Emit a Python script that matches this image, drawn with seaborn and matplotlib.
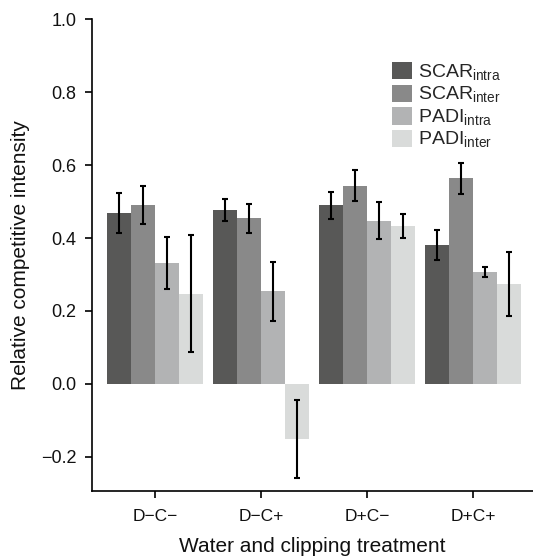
import numpy as np
import pandas as pd
import seaborn as sns
import matplotlib
matplotlib.use("Agg")
import matplotlib.pyplot as plt
from matplotlib.patches import Patch

# Treatments and competition indices
treatments = ["D\u2212C\u2212", "D\u2212C+", "D+C\u2212", "D+C+"]
indices = ["SCAR_intra", "SCAR_inter", "PADI_intra", "PADI_inter"]
index_labels = [r"SCAR$_{\rm intra}$", r"SCAR$_{\rm inter}$",
                r"PADI$_{\rm intra}$", r"PADI$_{\rm inter}$"]

# Mean relative competitive intensity per index, ordered by treatment
scar_intra = [0.468, 0.476, 0.490, 0.380]
scar_inter = [0.490, 0.454, 0.544, 0.564]
padi_intra = [0.331, 0.254, 0.448, 0.306]
padi_inter = [0.248, -0.151, 0.434, 0.273]

# Standard errors
scar_intra_se = [0.055, 0.030, 0.037, 0.041]
scar_inter_se = [0.052, 0.040, 0.042, 0.043]
padi_intra_se = [0.071, 0.081, 0.051, 0.014]
padi_inter_se = [0.160, 0.108, 0.033, 0.088]

means = [scar_intra, scar_inter, padi_intra, padi_inter]
ses = [scar_intra_se, scar_inter_se, padi_intra_se, padi_inter_se]

df = pd.DataFrame({
    "treatment": np.tile(treatments, len(indices)),
    "index": np.repeat(indices, len(treatments)),
    "rci": np.concatenate(means),
    "se": np.concatenate(ses),
})

palette = ["#585857", "#898989", "#b2b3b4", "#d9dbda"]

sns.set_theme(style="ticks")
plt.rcParams["font.family"] = ["Liberation Sans", "DejaVu Sans"]
plt.rcParams["mathtext.fontset"] = "custom"
plt.rcParams["mathtext.rm"] = "Liberation Sans"

fig = plt.figure(figsize=(5.33, 5.6), dpi=100)
ax = fig.add_axes([0.1726, 0.1232, 0.8274, 0.8420])

sns.barplot(data=df, x="treatment", y="rci", hue="index",
            order=treatments, hue_order=indices, palette=palette,
            width=0.9, errorbar=None, saturation=1, linewidth=0,
            legend=False, ax=ax)

# Standard-error bars centred on each bar
for container, idx in zip(ax.containers, indices):
    sub = df[df["index"] == idx].set_index("treatment").loc[treatments]
    xs = [p.get_x() + p.get_width() / 2 for p in container.patches]
    ax.errorbar(xs, sub["rci"], yerr=sub["se"], fmt="none",
                ecolor="black", elinewidth=1.5, capsize=2.5, capthick=1.5)

ax.set_ylim(-0.294, 1.0)
ax.set_xlim(-0.594, 3.566)
ax.set_yticks([-0.2, 0.0, 0.2, 0.4, 0.6, 0.8, 1.0])
ax.set_yticklabels(["\u22120.2", "0.0", "0.2", "0.4", "0.6", "0.8", "1.0"])
ax.tick_params(axis="both", labelsize=13, length=5, width=1.2,
               color="black", labelcolor="#111111", pad=6)
ax.tick_params(axis="x", labelsize=12.5, pad=8)
for side in ("left", "bottom"):
    ax.spines[side].set_linewidth(1.2)
    ax.spines[side].set_color("black")
sns.despine(ax=ax)

ax.set_xlabel("Water and clipping treatment", fontsize=15, labelpad=9,
              color="#111111")
ax.set_ylabel("Relative competitive intensity", fontsize=15, labelpad=8,
              color="#111111")

handles = [Patch(facecolor=c, edgecolor="none") for c in palette]
ax.legend(handles, index_labels, loc="upper left",
          bbox_to_anchor=(0.68, 0.91), frameon=False, fontsize=14,
          handlelength=1.05, handleheight=1.0, handletextpad=0.3,
          labelspacing=0.1, borderaxespad=0, borderpad=0)

fig.savefig("out.png", dpi=100)
